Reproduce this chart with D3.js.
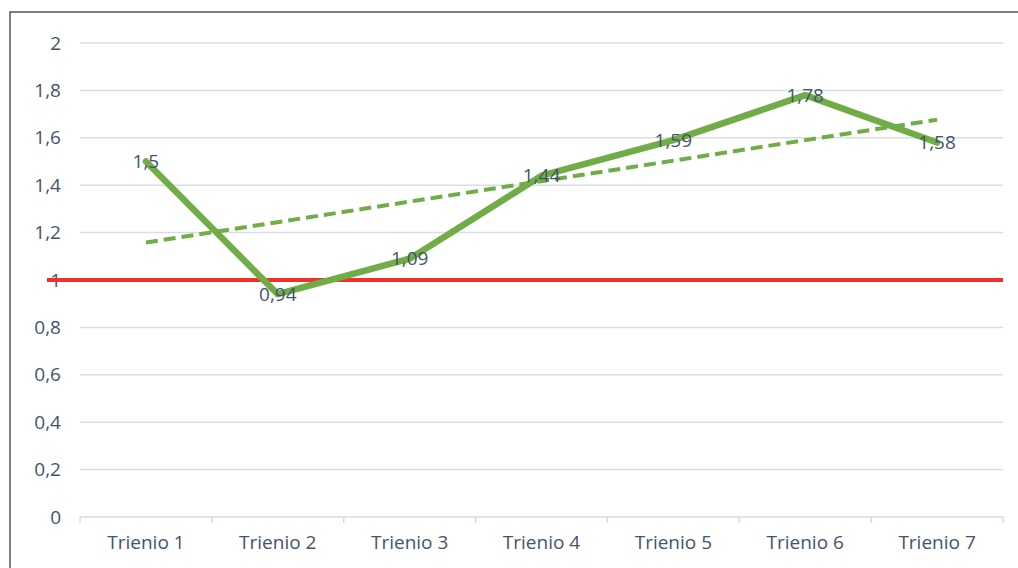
<!DOCTYPE html>
<html>
<head>
<meta charset="utf-8">
<script src="https://cdn.jsdelivr.net/npm/d3@7"></script>
<style>
  body { margin: 0; background: #fff; }
  text { font-family: "Open Sans", sans-serif; fill: #44546a; }
</style>
</head>
<body>
<div id="chart"></div>
<script>
var chart_width = 1018
var chart_height = 568

var categories = ['Trienio 1', 'Trienio 2', 'Trienio 3', 'Trienio 4', 'Trienio 5', 'Trienio 6', 'Trienio 7']
var values = [1.5, 0.94, 1.09, 1.44, 1.59, 1.78, 1.58]
var y_ticks = [0, 0.2, 0.4, 0.6, 0.8, 1, 1.2, 1.4, 1.6, 1.8, 2]
var reference_value = 1

var plot_left = 80, plot_right = 1003, plot_top = 43, plot_bottom = 517
var font_size = 19

var fmt = d => String(d).replace('.', ',')

var svg = d3.select('#chart')
  .append('svg')
  .attr('width', chart_width)
  .attr('height', chart_height)

// outer frame
svg.append('rect')
  .attr('x', 10).attr('y', 12)
  .attr('width', chart_width + 20).attr('height', chart_height + 20)
  .attr('fill', 'none')
  .attr('stroke', '#555')
  .attr('stroke-width', 1.5)

var x_scale = d3.scaleBand()
  .domain(categories)
  .range([plot_left, plot_right])

var y_scale = d3.scaleLinear()
  .domain([0, 2])
  .range([plot_bottom, plot_top])

// grid
svg.append('g')
  .selectAll('line')
  .data(y_ticks.filter(d => d > 0))
  .join('line')
  .attr('x1', plot_left).attr('x2', plot_right)
  .attr('y1', d => y_scale(d)).attr('y2', d => y_scale(d))
  .attr('stroke', '#d9dee6')
  .attr('stroke-width', 1.5)

// y labels
svg.append('g')
  .selectAll('text')
  .data(y_ticks)
  .join('text')
  .attr('x', 61)
  .attr('y', d => y_scale(d))
  .attr('dy', '0.35em')
  .attr('text-anchor', 'end')
  .attr('font-size', font_size)
  .text(fmt)

// x axis
var x_axis = d3.axisBottom(x_scale).tickSize(0).tickPadding(19)
var gx = svg.append('g')
  .attr('transform', 'translate(0,' + plot_bottom + ')')
  .call(x_axis)
gx.select('.domain').remove()
gx.selectAll('text').attr('font-size', font_size).attr('fill', '#44546a')
  .style('font-family', '"Open Sans", sans-serif')

svg.append('line')
  .attr('x1', plot_left).attr('x2', plot_right)
  .attr('y1', plot_bottom).attr('y2', plot_bottom)
  .attr('stroke', '#d4dbe4').attr('stroke-width', 1.5)

svg.append('g')
  .selectAll('line')
  .data(d3.range(categories.length + 1))
  .join('line')
  .attr('x1', i => plot_left + i * x_scale.step())
  .attr('x2', i => plot_left + i * x_scale.step())
  .attr('y1', plot_bottom).attr('y2', plot_bottom + 6)
  .attr('stroke', '#d4dbe4').attr('stroke-width', 1.5)

// reference line at 1
svg.append('line')
  .attr('x1', 47).attr('x2', plot_right)
  .attr('y1', y_scale(reference_value)).attr('y2', y_scale(reference_value))
  .attr('stroke', '#f0302a')
  .attr('stroke-width', 4)

var cx = d => x_scale(d) + x_scale.bandwidth() / 2

// linear trend
var xs = d3.range(values.length).map(i => i + 1)
var mx = d3.mean(xs), my = d3.mean(values)
var slope = d3.sum(xs, (x, i) => (x - mx) * (values[i] - my)) / d3.sum(xs, x => (x - mx) * (x - mx))
var intercept = my - slope * mx

svg.append('line')
  .attr('x1', cx(categories[0]))
  .attr('x2', cx(categories[categories.length - 1]))
  .attr('y1', y_scale(intercept + slope * 1))
  .attr('y2', y_scale(intercept + slope * values.length))
  .attr('stroke', '#70ad47')
  .attr('stroke-width', 4)
  .attr('stroke-dasharray', '12,6')

// data line
var line = d3.line()
  .x((d, i) => cx(categories[i]))
  .y(d => y_scale(d))

svg.append('path')
  .datum(values)
  .attr('fill', 'none')
  .attr('stroke', '#70ad47')
  .attr('stroke-width', 6.5)
  .attr('stroke-linejoin', 'round')
  .attr('stroke-linecap', 'round')
  .attr('d', line)

// data labels
svg.append('g')
  .selectAll('text')
  .data(values)
  .join('text')
  .attr('x', (d, i) => cx(categories[i]))
  .attr('y', d => y_scale(d))
  .attr('dy', '0.35em')
  .attr('text-anchor', 'middle')
  .attr('font-size', font_size)
  .text(fmt)
</script>
</body>
</html>
